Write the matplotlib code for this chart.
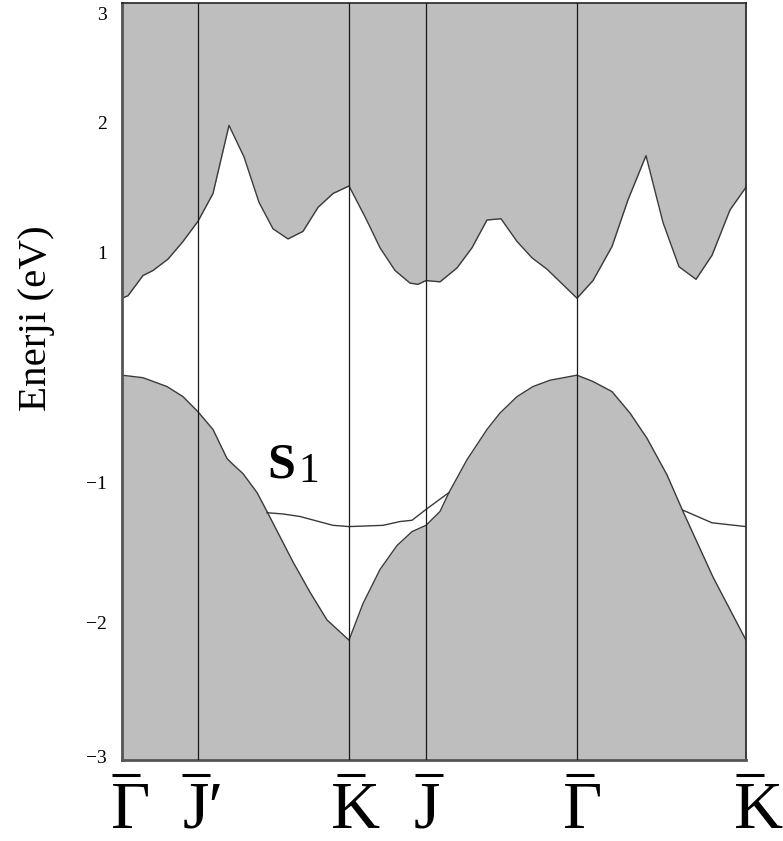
import matplotlib
matplotlib.use("Agg")
import matplotlib.pyplot as plt
import matplotlib.transforms as mtransforms

plt.rcParams["font.family"] = ["Liberation Serif", "DejaVu Serif"]

# High-symmetry points along the path (arbitrary k units)
kpoint_pos = [0, 76, 227, 304, 455, 624]
kpoint_labels = ["\u0393", "J\u2032", "K", "J", "\u0393", "K"]

# Lower edge of the projected conduction band (eV)
cb_k = [0, 6, 21, 31, 46, 61, 76, 91, 107, 122, 137, 151, 166, 181, 196, 211, 227,
        244, 258, 273, 288, 296, 304, 318, 335, 350, 365, 379, 395, 410, 425, 455,
        471, 490, 506, 524, 541, 557, 574, 590, 608, 624]
cb_e = [0.66, 0.68, 0.84, 0.88, 0.97, 1.11, 1.27, 1.49, 2.03, 1.78, 1.42, 1.21, 1.13,
        1.19, 1.38, 1.49, 1.55, 1.29, 1.06, 0.88, 0.78, 0.77, 0.80, 0.79, 0.90, 1.06,
        1.28, 1.29, 1.11, 0.98, 0.89, 0.66, 0.80, 1.07, 1.44, 1.79, 1.26, 0.91, 0.81,
        1.00, 1.36, 1.54]

# Upper edge of the projected valence band (eV)
vb_k = [0, 21, 45, 61, 76, 91, 105, 110, 121, 135, 145, 158, 171, 188, 205, 227, 241,
        258, 275, 290, 304, 318, 327, 345, 365, 378, 395, 411, 428, 455, 471, 490, 508,
        525, 545, 561, 591, 624]
vb_e = [0.05, 0.03, -0.04, -0.12, -0.24, -0.38, -0.61, -0.65, -0.73, -0.88, -1.03,
        -1.23, -1.43, -1.67, -1.89, -2.05, -1.76, -1.49, -1.30, -1.19, -1.14, -1.03,
        -0.88, -0.62, -0.38, -0.25, -0.12, -0.04, 0.01, 0.05, 0.00, -0.08, -0.25,
        -0.45, -0.74, -1.03, -1.55, -2.05]

# Surface state S1 (two branches outside the valence band)
s1a_k = [145, 161, 178, 211, 227, 261, 278, 290, 303, 327]
s1a_e = [-1.04, -1.05, -1.07, -1.14, -1.15, -1.14, -1.11, -1.10, -1.02, -0.88]
s1b_k = [561, 590, 624]
s1b_e = [-1.02, -1.12, -1.15]

# Energy axis
e_min, e_max = -3.0, 3.0
ytick_pos = [2.92, 2.05, 1.02, -0.80, -1.91, -2.97]
ytick_labels = ["3", "2", "1", "\u22121", "\u22122", "\u22123"]

gray = "#bebebe"
edge = "#3a3a3a"

fig = plt.figure(figsize=(7.83, 8.41), dpi=100)
ax = fig.add_axes([122 / 783, 81 / 841, 624 / 783, 757 / 841])
ax.set_facecolor("white")

ax.fill_between(cb_k, cb_e, e_max, color=gray, lw=0, zorder=1)
ax.fill_between(vb_k, e_min, vb_e, color=gray, lw=0, zorder=1)
ax.plot(cb_k, cb_e, color=edge, lw=1.0, zorder=2)
ax.plot(vb_k, vb_e, color=edge, lw=1.0, zorder=2)
ax.plot(s1a_k, s1a_e, color=edge, lw=1.0, zorder=2)
ax.plot(s1b_k, s1b_e, color=edge, lw=1.0, zorder=2)

for k in kpoint_pos[1:-1]:
    ax.axvline(k, color="#1a1a1a", lw=0.9, zorder=3)

ax.set_xlim(kpoint_pos[0], kpoint_pos[-1])
ax.set_ylim(e_min, e_max)

for side in ["left", "bottom"]:
    ax.spines[side].set_linewidth(2.0)
    ax.spines[side].set_color("#555555")
for side in ["top", "right"]:
    ax.spines[side].set_linewidth(1.2)
    ax.spines[side].set_color("#222222")

ax.set_yticks(ytick_pos)
ax.set_yticklabels(ytick_labels, fontsize=14)
ax.tick_params(axis="y", length=0, pad=11)

# High-symmetry point labels with an overbar
ax.set_xticks(kpoint_pos)
ax.set_xticklabels([])
ax.tick_params(axis="x", length=0)
xtrans = ax.get_xaxis_transform()
label_dx = [9, 5, 7, 1, 6, 13]     # horizontal nudge of each label (points ~ px)
bar_dx = [4, -2, 2, 3, 3, 4]       # horizontal nudge of each bar
bar_half = 14
for k, lab, dx, bdx in zip(kpoint_pos, kpoint_labels, label_dx, bar_dx):
    off = mtransforms.ScaledTranslation(dx / 100, 0, fig.dpi_scale_trans)
    ax.text(k, -68 / 757, lab, transform=xtrans + off, fontsize=49,
            ha="center", va="baseline", clip_on=False)
    ax.plot([k + bdx - bar_half, k + bdx + bar_half], [-15 / 757, -15 / 757],
            transform=xtrans, color="black", lw=2.2, solid_capstyle="butt",
            clip_on=False)

ax.text(145, -0.757, "S", fontsize=36, fontweight="bold", va="baseline", ha="left", zorder=4)
ax.text(176, -0.80, "1", fontsize=30, va="baseline", ha="left", zorder=4)

fig.text(37 / 783, 1 - 318 / 841, "Enerji (eV)", rotation=90, fontsize=29.5,
         ha="center", va="center")

fig.savefig("out.png", dpi=100)
